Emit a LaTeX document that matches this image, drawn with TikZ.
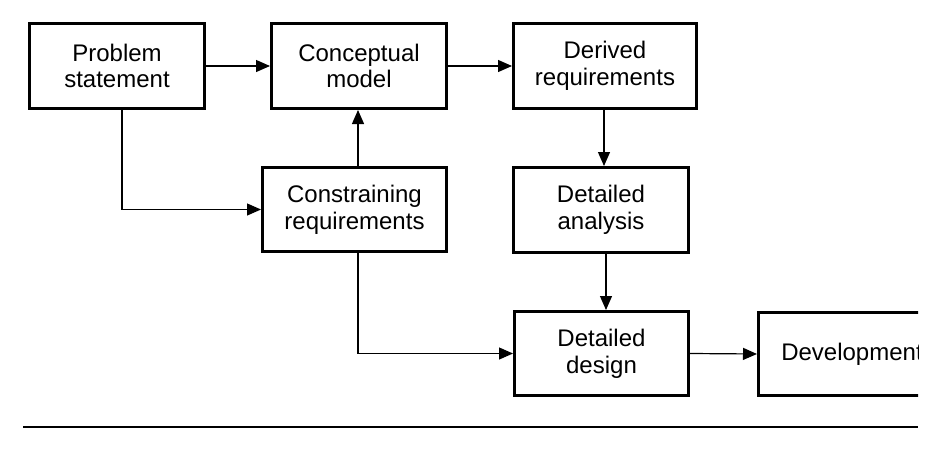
\documentclass[tikz,border=0pt]{standalone}
\usepackage{fontspec}
\setmainfont{Liberation Sans}
\usetikzlibrary{arrows.meta,calc}
\begin{document}
\begin{tikzpicture}[x=1pt,y=-1pt,
  box/.style={draw,line width=3pt,minimum width=175pt,minimum height=85pt,inner sep=0pt,align=center,
    font=\fontsize{24}{26.7}\selectfont},
  conn/.style={line width=1.2pt,-{Triangle[length=14pt,width=12pt]}}]
\useasboundingbox (0,0) rectangle (927,455);
\node[box] (prob) at (117,66) {Problem\\statement};
\node[box] (conc) at (359,66) {Conceptual\\model};
\node[box,minimum width=183pt] (deri) at (605,66) {Derived\\requirements};
\node[box,minimum width=184pt,minimum height=84pt] (cons) at (354.5,209.5) {Constraining\\requirements};
\node[box] (anal) at (601,210) {Detailed\\analysis};
\node[box,minimum width=174pt,minimum height=84pt] (desi) at (601.5,353.5) {Detailed\\design};
\begin{scope}
\clip (0,0) rectangle (918,455);
\node[box,minimum width=187pt,minimum height=83pt] (deve) at (852,354) {Development};
\end{scope}
\coordinate (pdn) at (122,108);
\coordinate (cup) at (358,168);
\coordinate (cdn) at (358,251);
\draw[conn] (prob.east) -- (conc.west);
\draw[conn] (conc.east) -- (deri.west);
\draw[conn] (pdn) |- (cons.west);
\draw[conn] (cup) -- (cup |- conc.south);
\draw[conn] (cdn) |- (desi.west);
\draw[conn] (deri.south -| 604,0) -- (anal.north -| 604,0);
\draw[conn] (anal.south -| 606,0) -- (desi.north -| 606,0);
\draw[conn] (desi.east) -- (deve.west);
\coordinate (rl) at (23,427);
\coordinate (rr) at (918,427);
\draw[line width=2pt] (rl) -- (rr);
\end{tikzpicture}
\end{document}
